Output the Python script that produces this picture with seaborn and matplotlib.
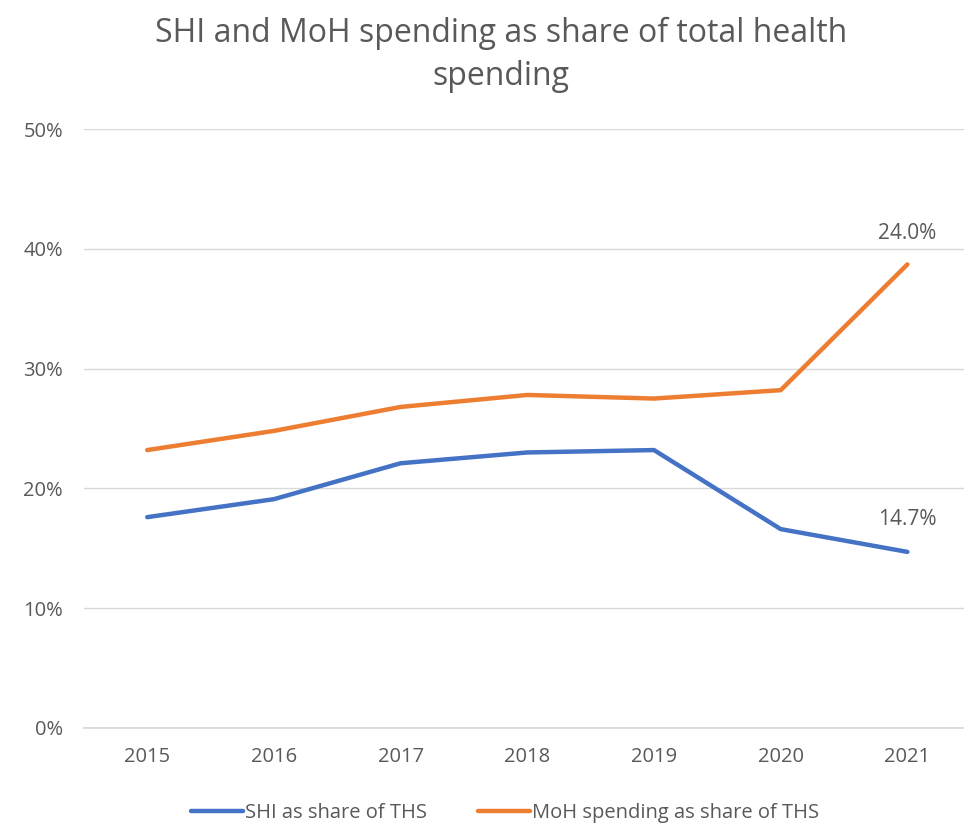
import pandas as pd
import matplotlib
matplotlib.use("Agg")
import matplotlib.pyplot as plt
import seaborn as sns
from matplotlib.ticker import PercentFormatter

# values
years = ["2015", "2016", "2017", "2018", "2019", "2020", "2021"]
shi_share = [17.6, 19.1, 22.1, 23.0, 23.2, 16.6, 14.7]
moh_share = [23.2, 24.8, 26.8, 27.8, 27.5, 28.2, 38.7]
series_names = ["SHI as share of THS", "MoH spending as share of THS"]
end_labels = ["14.7%", "24.0%"]

text_grey = "#595959"
blue = "#4472C4"
orange = "#ED7D31"

df = pd.DataFrame({
    "year": years * 2,
    "share": shi_share + moh_share,
    "series": [series_names[0]] * len(years) + [series_names[1]] * len(years),
})

sns.set_theme(style="white")
plt.rcParams['font.family'] = ['Open Sans', 'DejaVu Sans']

fig = plt.figure(figsize=(9.64, 8.25), dpi=100)
ax = fig.add_axes([0.087, 0.1176, 0.92, 0.726])

sns.lineplot(data=df, x="year", y="share", hue="series",
             palette=[blue, orange], linewidth=3.2, ax=ax, sort=False)

ax.set_ylim(0, 50)
ax.set_xlim(-0.5, len(years) - 0.5)
ax.set_yticks([0, 10, 20, 30, 40, 50])
ax.yaxis.set_major_formatter(PercentFormatter(decimals=0))
ax.yaxis.grid(True, color="#D9D9D9", linewidth=1)
ax.set_axisbelow(True)
for side in ["top", "right", "left"]:
    ax.spines[side].set_visible(False)
ax.spines["bottom"].set_color("#D9D9D9")
ax.tick_params(axis="both", colors=text_grey, labelsize=14.5, length=0)
ax.tick_params(axis="y", pad=15)
ax.tick_params(axis="x", pad=14)
ax.set_xlabel("")
ax.set_ylabel("")

# data labels at the last point
ax.annotate(end_labels[0], (len(years) - 1, shi_share[-1]), xytext=(0, 23),
            textcoords="offset points", ha="center", va="center",
            fontsize=15, color=text_grey)
ax.annotate(end_labels[1], (len(years) - 1, moh_share[-1]), xytext=(0, 22),
            textcoords="offset points", ha="center", va="center",
            fontsize=15, color=text_grey)

fig.suptitle("SHI and MoH spending as share of total health\nspending",
             x=0.52, y=0.98, fontsize=23, color=text_grey, linespacing=1.4)

ax.legend(loc="upper center", bbox_to_anchor=(0.475, -0.095), ncol=2,
          frameon=False, fontsize=14.5, labelcolor=text_grey,
          handlelength=2.6, columnspacing=2.5, handletextpad=0.1)

fig.savefig("out.png", dpi=100)
